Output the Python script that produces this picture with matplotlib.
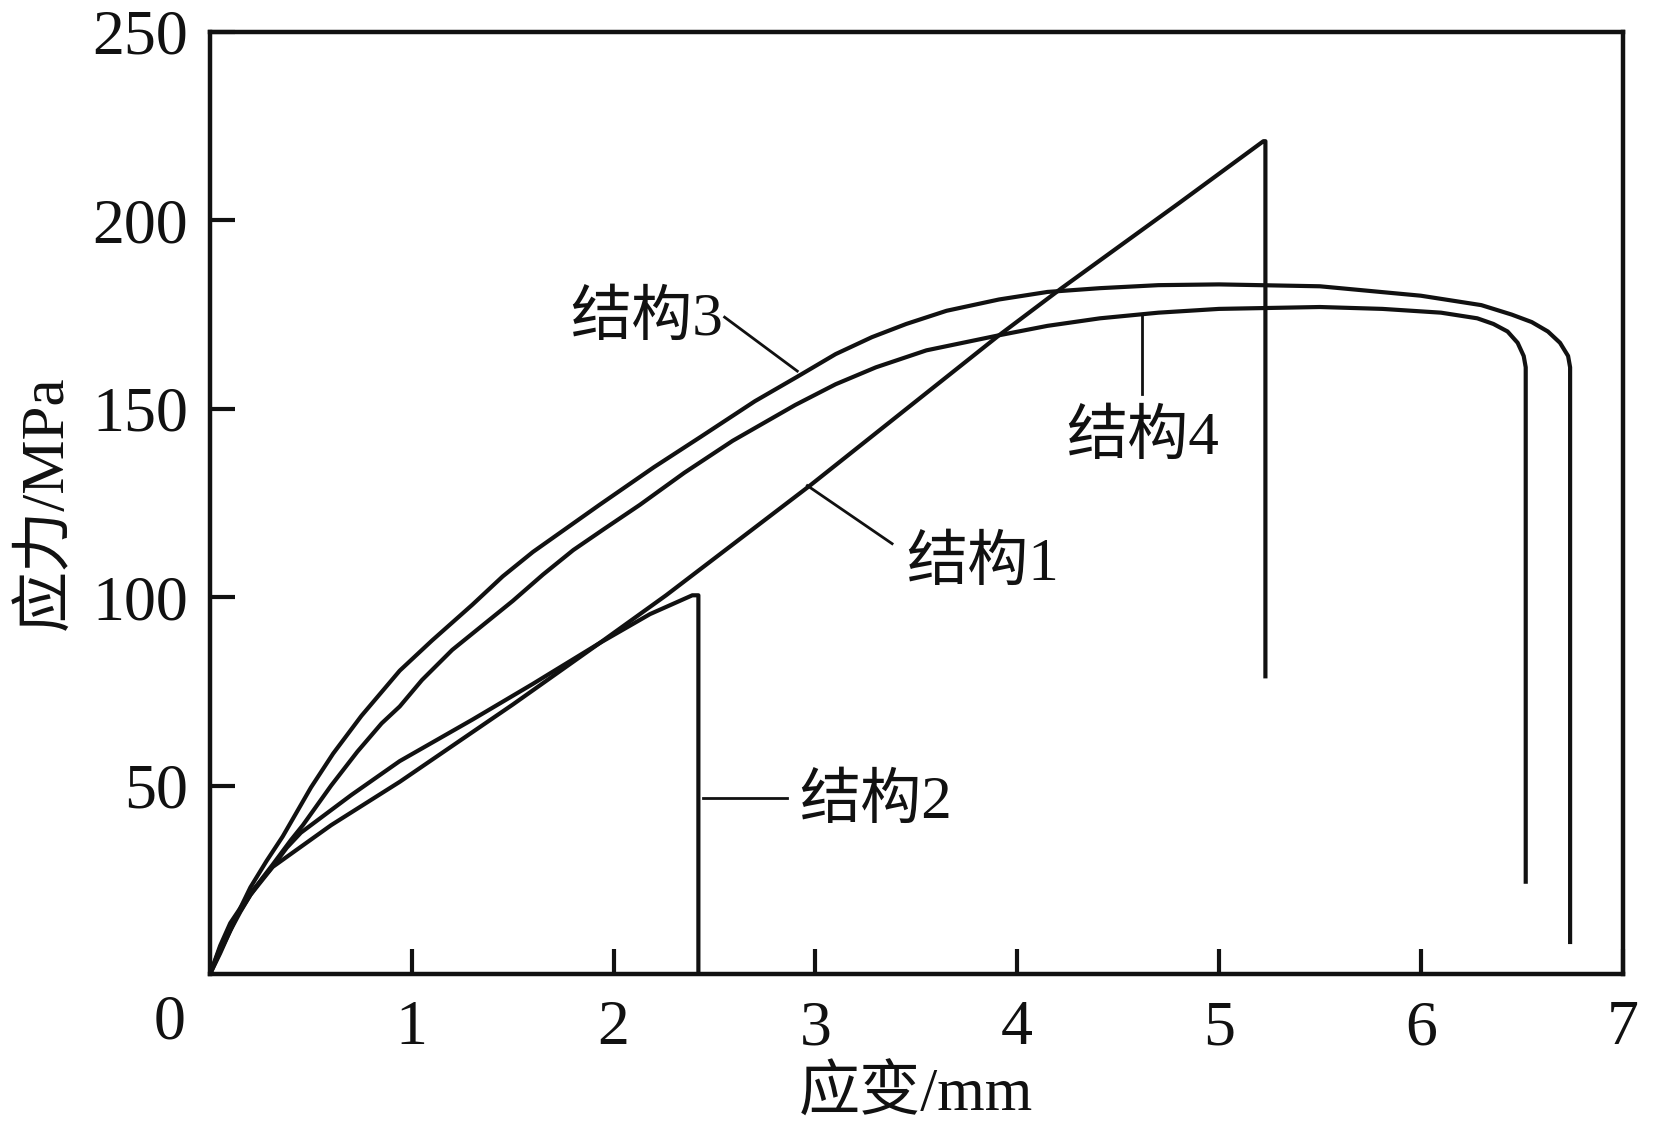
import matplotlib
matplotlib.use("Agg")
import matplotlib.pyplot as plt

plt.rcParams['font.family'] = ['Liberation Serif', 'Noto Sans CJK SC']

# 结构1: near-linear rise then sudden drop
s1_x = [0, 0.05, 0.1, 0.2, 0.31, 0.6, 0.94, 1.5, 1.93, 2.26, 2.97, 3.91, 4.22, 4.8, 5.22, 5.23, 5.23]
s1_y = [0, 7, 12.5, 21, 28.4, 39.5, 51, 71.5, 87.8, 100.5, 129.5, 169.5, 182, 204.5, 221, 221, 79]

# 结构2
s2_x = [0, 0.05, 0.1, 0.2, 0.31, 0.38, 0.45, 0.7, 0.94, 1.3, 1.6, 1.93, 2.18, 2.39, 2.42, 2.42]
s2_y = [0, 7.5, 13.5, 21.5, 28.5, 33.5, 37.5, 47.5, 56.5, 67.5, 77, 87.8, 95.5, 100.5, 100.5, 0]

# 结构3
s3_x = [0, 0.05, 0.1, 0.15, 0.2, 0.28, 0.36, 0.5, 0.61, 0.75, 0.94, 1.1, 1.3, 1.45, 1.6,
        1.93, 2.2, 2.43, 2.7, 2.91, 3.1, 3.28, 3.45, 3.65, 3.91, 4.15, 4.41, 4.7, 5.0, 5.5,
        6.0, 6.3, 6.45, 6.55, 6.63, 6.69, 6.73, 6.74, 6.74]
s3_y = [0, 5.5, 11.5, 17.5, 23, 30, 36.5, 49.5, 58.5, 68.5, 80.5, 88.5, 98, 105.5, 112,
        124.5, 134.5, 142.5, 152, 158.5, 164.5, 169, 172.5, 176, 179, 181, 182, 182.8, 183, 182.5,
        180, 177.5, 175, 173, 170.5, 167.5, 164, 161, 8.5]

# 结构4
s4_x = [0, 0.05, 0.1, 0.15, 0.2, 0.26, 0.31, 0.4, 0.46, 0.6, 0.73, 0.85, 0.94, 1.05, 1.2,
        1.35, 1.5, 1.65, 1.8, 1.95, 2.13, 2.35, 2.59, 2.9, 3.1, 3.3, 3.55, 3.91, 4.15, 4.41,
        4.7, 5.0, 5.5, 5.81, 6.1, 6.28, 6.36, 6.43, 6.48, 6.51, 6.52, 6.52]
s4_y = [0, 6, 11.5, 16.5, 21, 25.5, 29, 35.5, 39.5, 50, 59, 66.5, 71, 78, 86,
        92.5, 99, 106, 112.5, 118, 124.5, 133, 141.5, 151, 156.5, 161, 165.5, 169.5, 172, 174,
        175.5, 176.5, 177, 176.5, 175.5, 174, 172.5, 170.5, 167.5, 164, 161, 24.5]

# label text: (text, text left x, text centre y, leader x pair, leader y pair)
labels = [
    ("结构3", 1.787, 173.6, (2.55, 2.91), (174.3, 160.0)),
    ("结构1", 3.448, 108.6, (3.38, 2.96), (114.2, 129.6)),
    ("结构4", 4.242, 142.1, (4.62, 4.62), (154.0, 174.5)),
    ("结构2", 2.921, 45.5, (2.86, 2.445), (46.6, 46.6)),
]

fig = plt.figure(figsize=(16.54, 11.40), dpi=100)
ax = fig.add_axes([0.127, 0.1456, 0.854, 0.8264])

for xs, ys in [(s1_x, s1_y), (s2_x, s2_y), (s3_x, s3_y), (s4_x, s4_y)]:
    ax.plot(xs, ys, color='#111111', lw=3.0, solid_joinstyle='round')

for text, tx, ty, lx, ly in labels:
    ax.plot(lx, ly, color='#111111', lw=2.0)
    ax.text(tx, ty, text, fontsize=44, ha='left', va='center', color='#111111')

ax.set_xlim(0, 7)
ax.set_ylim(0, 250)
ax.set_xticks([1, 2, 3, 4, 5, 6, 7])
ax.set_yticks([50, 100, 150, 200, 250])
ax.tick_params(direction='in', length=18, width=3, labelsize=46, pad=16, colors='#111111')
ax.tick_params(axis='x', pad=19)
for sp in ax.spines.values():
    sp.set_linewidth(3.2)
    sp.set_color('#111111')

# shared origin label
ax.text(-0.2, -0.052, "0", transform=ax.get_xaxis_transform(), fontsize=46,
        ha='center', va='center', color='#111111')

ax.set_xlabel("应变/mm", fontsize=44, labelpad=6, color='#111111')
ax.set_ylabel("应力/MPa", fontsize=44, labelpad=12, color='#111111')

fig.savefig("out.png", dpi=100)
